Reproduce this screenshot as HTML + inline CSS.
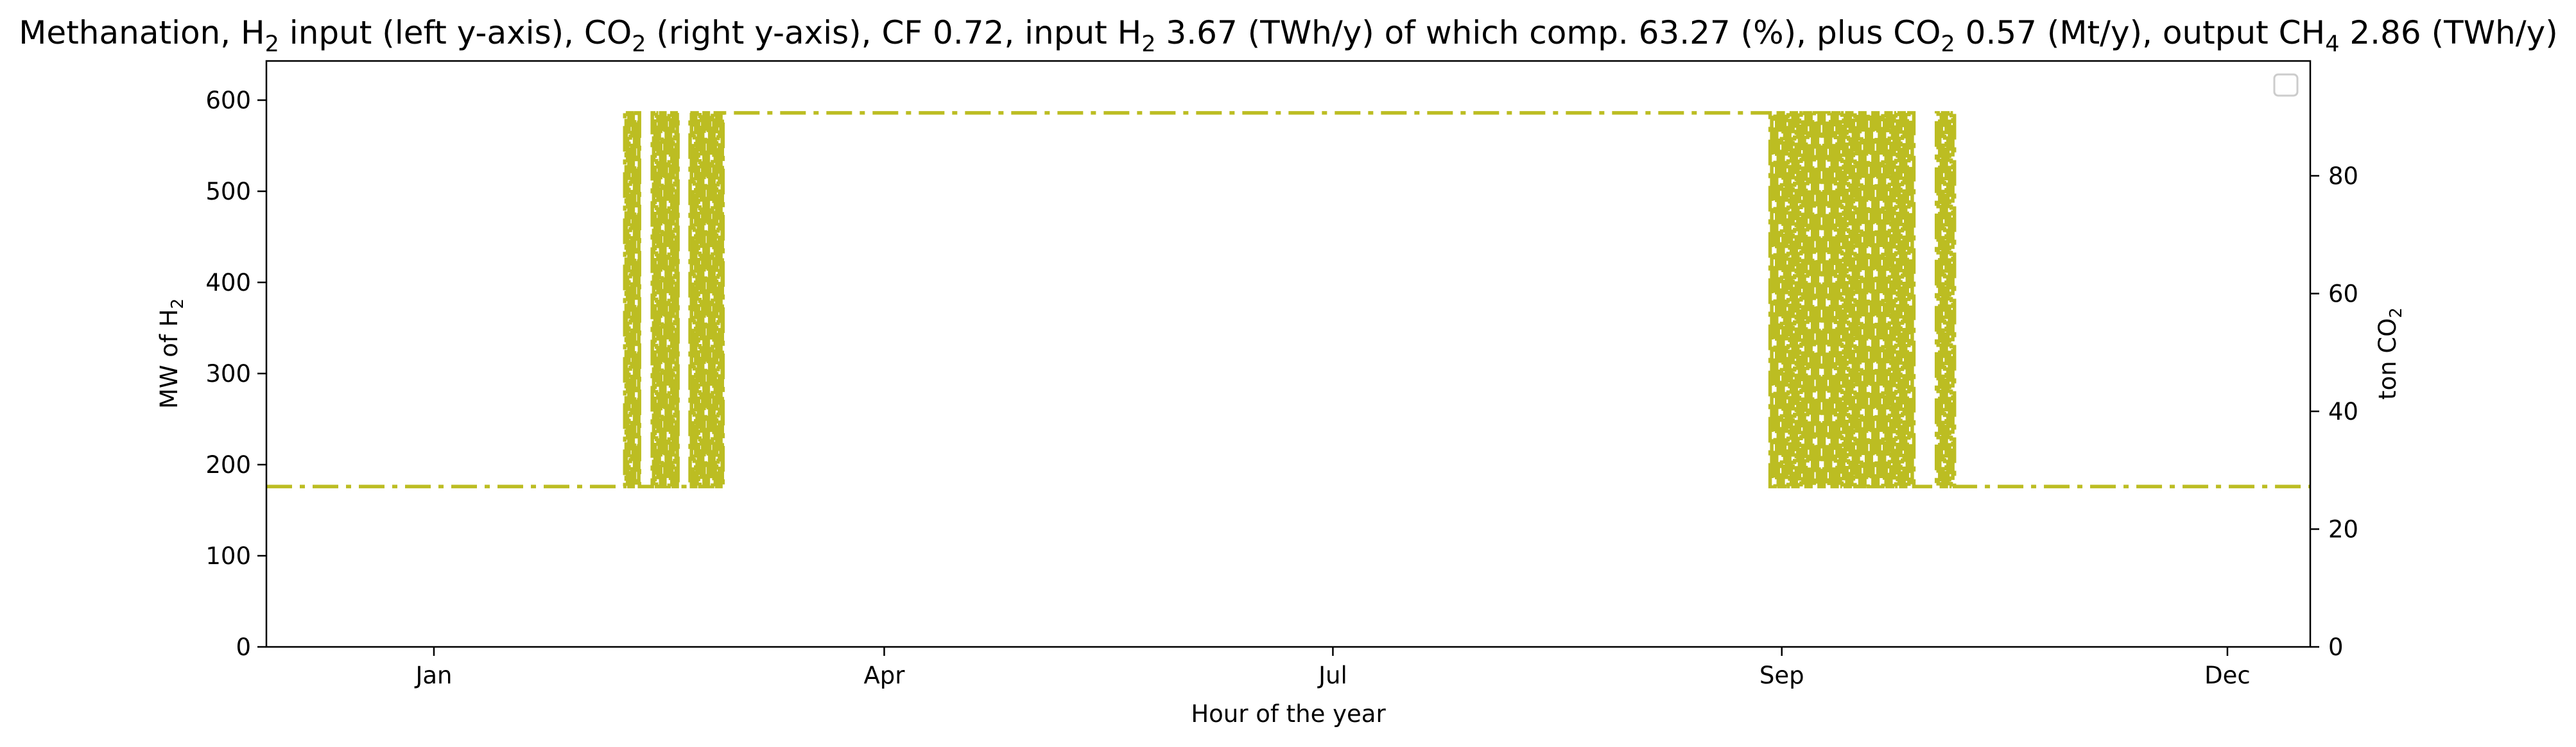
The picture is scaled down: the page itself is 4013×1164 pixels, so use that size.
<!DOCTYPE html>
<html><head><meta charset="utf-8"><style>
html,body{margin:0;padding:0;background:#fff;}
svg{display:block;font-family:"DejaVu Sans","Liberation Sans",sans-serif;}
</style></head><body>
<svg id="chart" width="4013" height="1164" viewBox="0 0 4013 1164">
<rect x="0" y="0" width="4013" height="1164" fill="#fff"/>
<text x="2007" y="68" font-size="50" text-anchor="middle">Methanation, H<tspan font-size="35" dy="12">2</tspan><tspan dy="-12"> input (left y-axis), CO</tspan><tspan font-size="35" dy="12">2</tspan><tspan dy="-12"> (right y-axis), CF 0.72, input H</tspan><tspan font-size="35" dy="12">2</tspan><tspan dy="-12"> 3.67 (TWh/y) of which comp. 63.27 (%), plus CO</tspan><tspan font-size="35" dy="12">2</tspan><tspan dy="-12"> 0.57 (Mt/y), output CH</tspan><tspan font-size="35" dy="12">4</tspan><tspan dy="-12"> 2.86 (TWh/y)</tspan></text>
<g id="plot"></g>
<g id="axes"></g>
<rect x="3543" y="116" width="36" height="33" rx="6" fill="#fff" stroke="#ccc" stroke-width="3"/>
<text transform="translate(276,551) rotate(-90)" font-size="37" text-anchor="middle">MW of H<tspan font-size="26" dy="9">2</tspan></text>
<text transform="translate(3732,551) rotate(-90)" font-size="37" text-anchor="middle">ton CO<tspan font-size="26" dy="9">2</tspan></text>
<text x="2007" y="1125" font-size="37" text-anchor="middle">Hour of the year</text>
</svg>
<script>
const lowMW = 176;
const highMW = 586;
const toggleHours = [1536,1542,1548,1554,1560,1566,1572,1578,1584,1590,1596,1599,
1654,1660,1666,1672,1678,1684,1690,1696,1702,1708,1714,1720,1726,1732,1738,1744,1750,1756,1761,1764,
1816,1822,1828,1834,1840,1846,1852,1858,1864,1870,1876,1882,1888,1894,1900,1906,1912,1918,1924,1930,1936,1942,1948,1954,1957,
6445,6452,6459,6466,6473,6480,6487,6494,6501,6508,6515,6522,6529,6536,6543,6550,6557,6564,6571,6578,6585,6592,6599,6606,6613,6620,6627,6634,6641,6648,6655,6662,6669,6676,6683,6690,6697,6704,6711,6718,6725,6732,6739,6746,6753,6760,6767,6774,6781,6788,6795,6802,6809,6816,6823,6830,6837,6844,6851,6858,6865,6872,6879,6886,6893,6900,6907,6914,6921,6928,6935,6942,6949,6956,6963,6970,6977,6984,6991,6998,7005,7012,7019,7026,7033,7040,7047,7054,7061,
7158,7165,7172,7179,7186,7193,7200,7207,7214,7221,7228,7235];
const leftTicks = [0,100,200,300,400,500,600];
const rightTicks = [0,20,40,60,80];
const xTickHours = [718,2648,4571,6495,8405];
const xTickLabels = ["Jan","Apr","Jul","Sep","Dec"];

const NS="http://www.w3.org/2000/svg";
const L=415,R=3599,T=95,B=1008;
const xMin=0,xMax=8760,yMax=643,y2Max=99.5;
const xs=h=>L+(h-xMin)/(xMax-xMin)*(R-L);
const ys=v=>B-v/yMax*(B-T);
const ys2=v=>B-v/y2Max*(B-T);
const plot=document.getElementById('plot'), axes=document.getElementById('axes');
function mk(tag,attrs,parent){const e=document.createElementNS(NS,tag);for(const k in attrs)e.setAttribute(k,attrs[k]);parent.appendChild(e);return e;}

let d="M"+xs(0)+","+ys(lowMW);let high=false;
for(const h of toggleHours){d+=" H"+xs(h).toFixed(2);high=!high;d+=" V"+ys(high?highMW:lowMW).toFixed(2);}
d+=" H"+xs(8760);
const line=mk('path',{d:d,fill:'none',stroke:'#bcbd22','stroke-width':5.5,'stroke-dasharray':'40 12 8 12'},plot);



const frame=mk('rect',{x:L,y:T,width:R-L,height:B-T,fill:'none',stroke:'#000','stroke-width':2.5},axes);


leftTicks.forEach(v=>{
  const y=ys(v);
  const t=mk('line',{x1:L-14,x2:L,y1:y,y2:y,stroke:'#000','stroke-width':2.5},axes);
  
  
  const tx=mk('text',{x:L-24,y:y+13,'font-size':37,'text-anchor':'end'},axes);tx.textContent=v;
  
  
});
rightTicks.forEach(v=>{
  const y=ys2(v);
  const t=mk('line',{x1:R,x2:R+14,y1:y,y2:y,stroke:'#000','stroke-width':2.5},axes);
  
  
  const tx=mk('text',{x:R+28,y:y+13,'font-size':37,'text-anchor':'start'},axes);tx.textContent=v;
  
  
});
xTickHours.forEach((h,i)=>{
  const x=xs(h);
  const t=mk('line',{x1:x,x2:x,y1:B,y2:B+14,stroke:'#000','stroke-width':2.5},axes);
  
  
  const tx=mk('text',{x:x,y:B+57,'font-size':37,'text-anchor':'middle'},axes);tx.textContent=xTickLabels[i];
  
  
});
</script>
</body></html>
